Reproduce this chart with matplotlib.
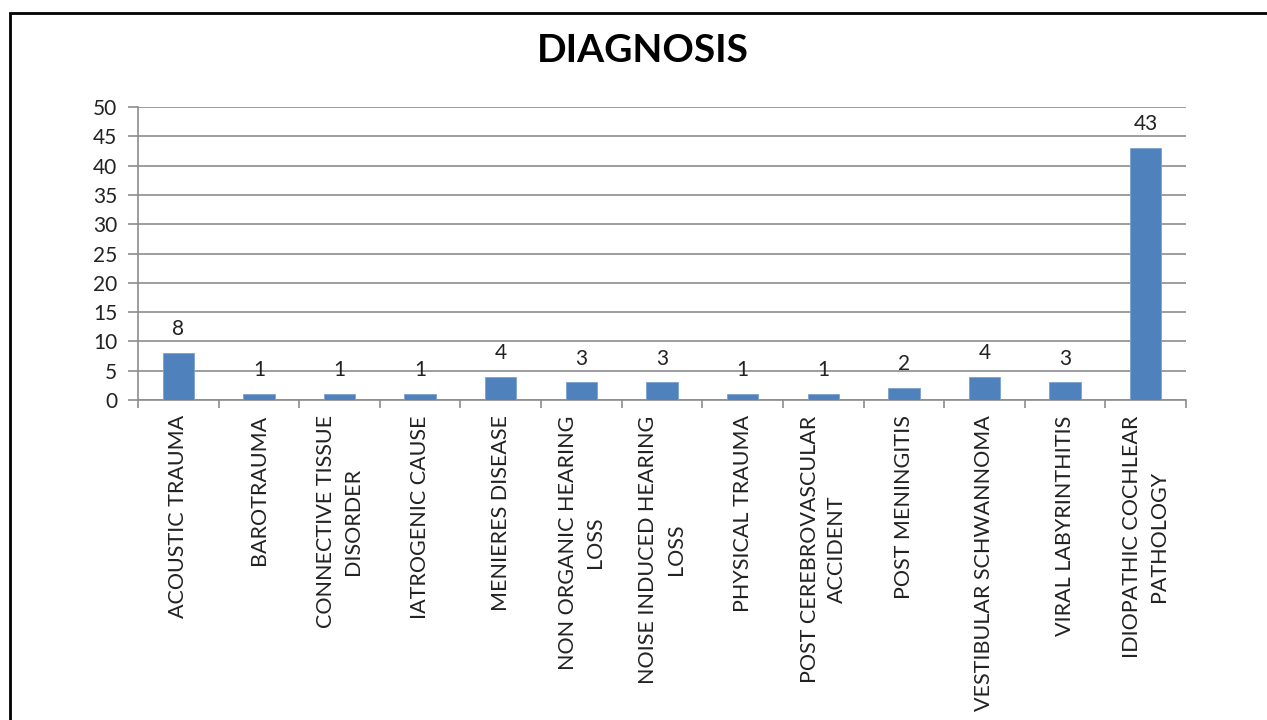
import matplotlib
matplotlib.use("Agg")
import matplotlib.pyplot as plt
from matplotlib.patches import Rectangle
import numpy as np

categories = [
    "ACOUSTIC TRAUMA", "BAROTRAUMA", "CONNECTIVE TISSUE\nDISORDER",
    "IATROGENIC CAUSE", "MENIERES DISEASE", "NON ORGANIC HEARING\nLOSS",
    "NOISE INDUCED HEARING\nLOSS", "PHYSICAL TRAUMA",
    "POST CEREBROVASCULAR\nACCIDENT", "POST MENINGITIS",
    "VESTIBULAR SCHWANNOMA", "VIRAL LABYRINTHITIS",
    "IDIOPATHIC COCHLEAR\nPATHOLOGY",
]
values = [8, 1, 1, 1, 4, 3, 3, 1, 1, 2, 4, 3, 43]
yticks = [0, 5, 10, 15, 20, 25, 30, 35, 40, 45, 50]

plt.rcParams['font.family'] = ['Lato', 'DejaVu Sans']

fig = plt.figure(figsize=(12.67, 7.2), dpi=100)
fig.patch.set_facecolor('white')
ax = fig.add_axes([138/1267, 1-400/720, 1048/1267, 293/720])

x = np.arange(len(categories))
ax.bar(x, values, width=0.39, color='#4F81BD', edgecolor='#7DA0CF', linewidth=0.6, zorder=3)
for xi, v in zip(x, values):
    ax.annotate(str(v), (xi, v), xytext=(0, 10), textcoords='offset points',
                ha='center', va='bottom', fontsize=15, color='#222222')

ax.set_xlim(-0.5, len(categories) - 0.5)
ax.set_ylim(0, 50)
ax.set_yticks(yticks)
ax.set_yticklabels([str(t) for t in yticks], fontsize=15, color='#222222')
ax.yaxis.grid(True, color='#8c8c8c', linewidth=1.2, zorder=0)
ax.set_axisbelow(True)

ax.set_xticks(x)
ax.set_xticklabels(categories, rotation=90, fontsize=15.5, color='#222222',
                   ha='center', va='top', multialignment='center', linespacing=1.45)
ax.set_xticks(np.arange(-0.5, len(categories)), minor=True)
ax.tick_params(axis='x', which='major', length=0, pad=11)
ax.tick_params(axis='x', which='minor', length=6, color='#8c8c8c', width=1.2)
ax.tick_params(axis='y', length=7, color='#8c8c8c', width=1.2, pad=8)

for s in ['top', 'right']:
    ax.spines[s].set_visible(False)
for s in ['left', 'bottom']:
    ax.spines[s].set_color('#8c8c8c')
    ax.spines[s].set_linewidth(1.2)

fig.text(643/1267, 1-51/720, "DIAGNOSIS", ha='center', va='center',
         fontsize=28, fontweight='bold', color='black')

border = Rectangle((10/1267, -0.1), 1.2, (1-13/720) + 0.1,
                   transform=fig.transFigure, fill=False, edgecolor='black',
                   linewidth=2.0, clip_on=False)
fig.patches.append(border)

fig.savefig("out.png", dpi=100, facecolor='white')
